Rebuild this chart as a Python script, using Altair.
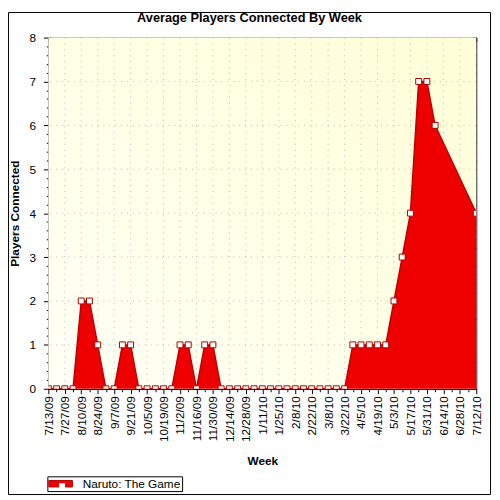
import json
import altair as alt
import pandas as pd

# ---- data ----
week_num = [0, 1, 2, 3, 4, 5, 6, 7, 8, 9, 10, 11, 12, 13, 14, 15, 16, 17, 18, 19,
            20, 21, 22, 23, 24, 25, 26, 27, 28, 29, 30, 31, 32, 33, 34, 35, 36, 37,
            38, 39, 40, 41, 42, 43, 44, 45, 46, 47, 52]
players = [0, 0, 0, 0, 2, 2, 1, 0, 0, 1, 1, 0, 0, 0, 0, 0, 1, 1, 0, 1,
           1, 0, 0, 0, 0, 0, 0, 0, 0, 0, 0, 0, 0, 0, 0, 0, 0, 1,
           1, 1, 1, 1, 2, 3, 4, 7, 7, 6, 4]
tick_labels = ["7/13/09", "7/27/09", "8/10/09", "8/24/09", "9/7/09", "9/21/09",
               "10/5/09", "10/19/09", "11/2/09", "11/16/09", "11/30/09", "12/14/09",
               "12/28/09", "1/11/10", "1/25/10", "2/8/10", "2/22/10", "3/8/10",
               "3/22/10", "4/5/10", "4/19/10", "5/3/10", "5/17/10", "5/31/10",
               "6/14/10", "6/28/10", "7/12/10"]
y_ticks = [0, 1, 2, 3, 4, 5, 6, 7, 8]
series_name = "Naruto: The Game"

n_weeks = 2 * (len(tick_labels) - 1)
week_ticks = list(range(n_weeks + 1))
label_weeks = week_ticks[::2]
y_minor = [round(i * 0.2, 1) for i in range(5 * y_ticks[-1] + 1)]

df = pd.DataFrame({"week": week_num, "players": players})
df["series"] = series_name
df["marker"] = " "

W, H = 435, 357
FONT = "Liberation Sans"
RED = "#EE0000"
DARK = "#A80000"

xscale = alt.Scale(domain=[0, n_weeks], nice=False, zero=False)
yscale = alt.Scale(domain=[y_ticks[0], y_ticks[-1]], nice=False)

label_expr = ("datum.value % 2 === 0 ? " + json.dumps(tick_labels) +
              "[datum.value / 2] : ''")
is_int = "abs(datum.value - round(datum.value)) < 0.01"

x_axis = alt.Axis(
    values=week_ticks, labelExpr=label_expr, labelAngle=270, labelFont=FONT,
    labelFontSize=12, labelColor="black", labelPadding=2, labelOverlap=False,
    labelFlush=False,
    tickColor="black", domainColor="black", grid=False,
    tickSize={"condition": {"test": "datum.value % 2 === 0", "value": 5}, "value": 3},
    title="Week", titleFont=FONT, titleFontSize=12, titleFontWeight="bold",
    titleColor="black", titlePadding=14,
)
y_axis = alt.Axis(
    values=y_minor, labelExpr=is_int + " ? format(datum.value, 'd') : ''",
    labelFont=FONT, labelFontSize=12, labelColor="black", labelPadding=8,
    labelOverlap=False, labelFlush=False,
    offset=-3, domain=False, tickColor="black", grid=False,
    tickSize={"condition": {"test": is_int, "value": 8}, "value": 5},
    title="Players Connected", titleFont=FONT, titleFontSize=12, titleFontWeight="bold",
    titleColor="black", titlePadding=8,
)

bg = alt.Chart(alt.Data(values=[{}])).mark_rect(
    color=alt.LinearGradient(gradient="linear", x1=0, y1=1, x2=1, y2=0,
                             stops=[alt.GradientStop(color="#FFFFF6", offset=0),
                                    alt.GradientStop(color="#FFFFD8", offset=1)])
).encode(x=alt.value(0), x2=alt.value(W), y=alt.value(0), y2=alt.value(H))

vgrid = alt.Chart(pd.DataFrame({"g": label_weeks[1:-1]})).mark_rule(
    color="#BBBBBB", strokeDash=[1, 5], strokeWidth=1
).encode(x=alt.X("g:Q", scale=xscale, axis=None))

hgrid = alt.Chart(pd.DataFrame({"g": y_ticks[1:-1]})).mark_rule(
    color="#BBBBBB", strokeDash=[1, 5], strokeWidth=1
).encode(y=alt.Y("g:Q", scale=yscale, axis=None))

base = alt.Chart(df)

area = base.mark_area(interpolate="linear", opacity=1).encode(
    x=alt.X("week:Q", scale=xscale, axis=x_axis),
    y=alt.Y("players:Q", scale=yscale, axis=y_axis),
    color=alt.Color("series:N", scale=alt.Scale(range=[RED]),
                    legend=alt.Legend(
                        orient="none", legendX=-1, legendY=446, title=None,
                        symbolType="M-2,-0.55H2V0.55H-2Z", symbolSize=144,
                        symbolStrokeColor="#B00000", symbolStrokeWidth=1,
                        symbolFillColor=RED, symbolOffset=6,
                        labelFont=FONT, labelFontSize=12, labelColor="black",
                        labelOffset=16, strokeColor="black", padding=1,
                        zindex=1,
                    )),
)

line = base.mark_line(interpolate="linear", color="#C00000", strokeWidth=1.5).encode(
    x=alt.X("week:Q", scale=xscale, axis=None),
    y=alt.Y("players:Q", scale=yscale, axis=None),
)

points = base.mark_point(filled=True, fill="white", stroke=DARK, strokeWidth=1,
                         opacity=1, size=36, clip=True).encode(
    x=alt.X("week:Q", scale=xscale, axis=None),
    y=alt.Y("players:Q", scale=yscale, axis=None),
    shape=alt.Shape("marker:N", scale=alt.Scale(range=["square"]),
                    legend=alt.Legend(
                        orient="none", legendX=-1, legendY=446, title=None,
                        symbolSize=36, symbolFillColor="white",
                        symbolStrokeColor=DARK, symbolStrokeWidth=1,
                        symbolOffset=5, labelExpr="''",
                        labelFont=FONT, labelFontSize=12, labelOffset=0,
                        padding=4, zindex=3,
                    )),
)

mirror = base.mark_point(opacity=0).encode(
    x=alt.X("week:Q", scale=xscale,
            axis=alt.Axis(orient="top", values=week_ticks, labels=False, domain=False,
                          offset=-4, tickSize=4, tickColor="black", grid=False,
                          title=None)),
    y=alt.Y("players:Q", scale=yscale,
            axis=alt.Axis(orient="right", values=y_minor, labels=False, domain=False,
                          offset=-4, tickSize=4, tickColor="black", grid=False,
                          title=None)),
)

frame = alt.Chart(alt.Data(values=[{}])).mark_rect(
    fillOpacity=0, stroke="black", strokeWidth=1
).encode(x=alt.value(-40.5), x2=alt.value(449.5), y=alt.value(-25.5), y2=alt.value(464.5))

chart = alt.layer(bg, vgrid, hgrid, area, line, points, mirror, frame).resolve_axis(
    x="independent", y="independent"
).resolve_legend(color="independent", shape="independent").properties(
    width=W, height=H,
    autosize=alt.AutoSizeParams(type="none"),
    padding={"left": 41, "top": 26, "right": 16, "bottom": 109},
    background="white",
    title=alt.Title("Average Players Connected By Week", font=FONT, fontSize=13,
                    fontWeight="bold", color="black", anchor="middle",
                    frame="bounds", offset=10, dy=23),
).configure_view(stroke="black", strokeWidth=1)

chart.save("out.html", embed_options={"renderer": "svg", "actions": False})
